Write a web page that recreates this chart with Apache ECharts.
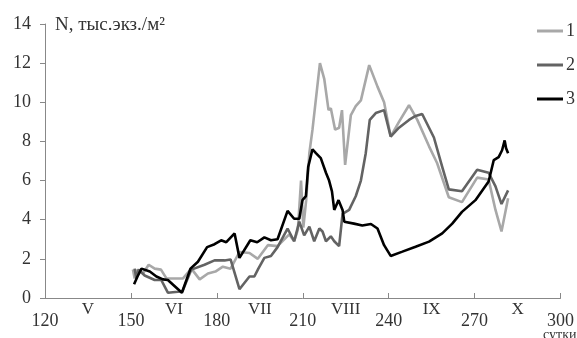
<!DOCTYPE html>
<html><head><meta charset="utf-8">
<script src="https://cdn.jsdelivr.net/npm/echarts@6/dist/echarts.min.js"></script>
<style>html,body{margin:0;padding:0;background:#fff}#c{width:577px;height:338px}</style>
</head><body><div id="c"></div>
<script>
const seriesNames = ['1', '2', '3'];
const monthLabels = ['V', 'VI', 'VII', 'VIII', 'IX', 'X'];
const yTitle = 'N, тыс.экз./м²';
const xUnit = 'сутки';

const days1 = [150.7,151.3,152.3,154.2,156.2,158.3,160.5,162.4,168.2,171.1,174,176.9,179.5,182.1,184.8,187.9,191.4,194.3,197.8,201.2,205.3,207,208.3,209.4,210.2,211.2,212.3,213.4,216,217.5,219,219.8,221.3,222.7,223.7,224.8,226.8,228.5,230.3,233.2,236.1,238.4,240.7,243.6,247.1,250,254.1,256.9,261,265.6,270.9,274.9,277.3,279.4,281.7];
const vals1 = [1.45,1.0,1.45,1.25,1.7,1.5,1.45,1.0,1.0,1.5,0.95,1.25,1.35,1.6,1.5,2.35,2.3,2.0,2.7,2.65,3.25,2.9,3.5,6.0,3.6,5.0,7.4,8.6,12.0,11.2,9.6,9.7,8.6,8.7,9.6,6.8,9.35,9.8,10.1,11.9,10.8,10.0,8.25,9.0,9.85,9.1,7.75,6.9,5.15,4.9,6.15,6.05,4.5,3.4,5.1];

const days2 = [151.3,151.9,152.7,154.8,158.3,160.6,162.9,166.4,168,171.1,175.7,179.2,182.7,184.8,187.9,191.4,193.1,194.5,196.6,198.9,201.2,204.7,207,208.8,210.5,212.3,214,215.8,216.9,218.1,219.8,221,222.7,223.9,226.2,228.5,230.3,232,233.4,235.5,238.4,240.7,243.6,247.1,249.4,251.7,255.8,258.7,261,265.6,270.9,274.9,277.3,279.4,281.7];
const vals2 = [1.5,1.0,1.45,1.15,0.92,0.92,0.27,0.32,0.35,1.45,1.7,1.92,1.92,1.97,0.45,1.1,1.1,1.5,2.05,2.15,2.6,3.55,2.9,3.9,3.2,3.65,2.9,3.55,3.4,2.9,3.15,2.9,2.65,4.3,4.5,5.2,6.0,7.4,9.1,9.45,9.6,8.25,8.7,9.1,9.3,9.4,8.2,6.7,5.55,5.45,6.55,6.4,5.7,4.8,5.5];

const days3 = [151.1,152.3,153.7,156.6,158.9,161.2,162.9,167.8,170.8,173.4,176.6,179.2,181.5,183.3,186.2,187.9,191.7,194.1,196.6,198.9,201.2,204.7,207,208.8,209.9,211.1,211.9,213.4,214.6,216.3,218.1,219.2,220.2,221,222.5,223.9,224.5,227.9,230.8,233.8,236.1,238.4,240.7,244.8,249.4,254.1,258.7,262.2,265.6,270.3,274.9,276.7,278.4,279.6,280.5,281,281.7];
const vals3 = [0.7,1.1,1.5,1.35,1.1,0.95,0.92,0.27,1.5,1.85,2.6,2.75,2.95,2.85,3.3,2.05,2.95,2.85,3.1,2.95,3.0,4.45,4.05,4.05,5.0,5.2,6.7,7.6,7.4,7.15,6.4,6.0,5.45,4.5,5.0,4.5,3.9,3.8,3.7,3.78,3.55,2.7,2.15,2.37,2.62,2.88,3.3,3.8,4.4,5.0,5.95,7.05,7.2,7.55,8.05,7.65,7.4];

const zip = (a, b) => a.map((d, i) => [d, b[i]]);
const colors = ['#a8a8a8', '#636363', '#000000'];
const font = "'Liberation Serif', 'Times New Roman', serif";
const chart = echarts.init(document.getElementById('c'), null, {renderer: 'canvas'});
const mk = (name, data, color, z) => ({
  name, type: 'line', data, showSymbol: false, symbol: 'none', z,
  lineStyle: {color, width: 2.6}, itemStyle: {color}, animation: false
});
chart.setOption({
  animation: false,
  textStyle: {fontFamily: font},
  grid: {left: 45, right: 15, top: 24, bottom: 40},
  title: {text: yTitle, left: 55, top: 16, padding: 0, textStyle: {fontFamily: font, fontSize: 19, fontWeight: 'normal', color: '#333'}},
  legend: {
    orient: 'vertical', left: 537, top: 22, padding: 0, itemWidth: 26, itemHeight: 3, itemGap: 16,
    icon: 'rect', textStyle: {fontFamily: font, fontSize: 18, color: '#333', padding: [0,0,0,-2]},
    data: seriesNames
  },
  xAxis: [{
    type: 'value', min: 120, max: 300, interval: 30, position: 'bottom',
    axisLine: {lineStyle: {color: '#888', width: 1}},
    axisTick: {inside: true, length: 5, lineStyle: {color: '#888'}},
    splitLine: {show: false},
    axisLabel: {fontFamily: font, fontSize: 18, color: '#333', margin: 14}
  }, {
    type: 'category', data: monthLabels, position: 'bottom',
    axisLine: {show: false}, axisTick: {show: false}, splitLine: {show: false},
    axisLabel: {fontFamily: font, fontSize: 17, color: '#333', margin: 3, interval: 0}
  }],
  yAxis: {
    type: 'value', min: 0, max: 14, interval: 2,
    axisLine: {show: true, lineStyle: {color: '#888', width: 1}},
    axisTick: {show: true, length: 5, lineStyle: {color: '#888'}},
    splitLine: {show: false},
    axisLabel: {fontFamily: font, fontSize: 18, color: '#333', margin: 14}
  },
  graphic: [{type: 'text', left: 543, top: 328, style: {text: xUnit, font: '14px ' + font, fill: '#333'}}],
  series: [
    mk(seriesNames[0], zip(days1, vals1), colors[0], 2),
    mk(seriesNames[1], zip(days2, vals2), colors[1], 3),
    mk(seriesNames[2], zip(days3, vals3), colors[2], 4)
  ]
});
</script></body></html>
